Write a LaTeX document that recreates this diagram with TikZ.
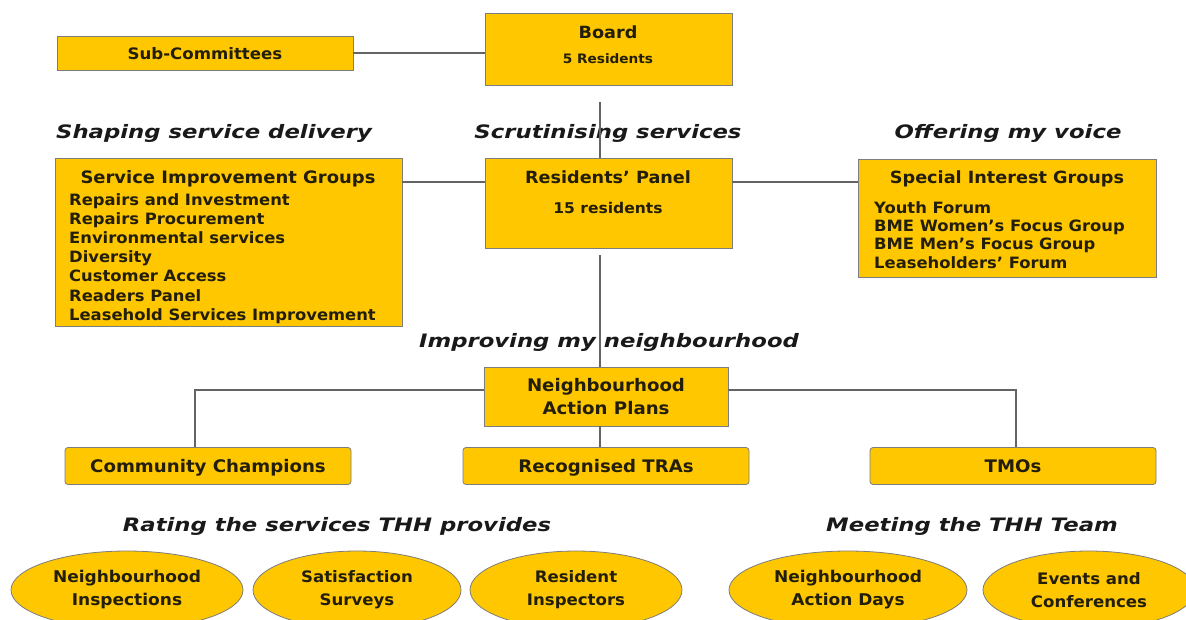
\documentclass[tikz,border=0pt]{standalone}
\usepackage{fontspec}
\setmainfont{DejaVu Sans}[FakeStretch=1.05]
\newfontfamily\headfont{DejaVu Sans}[FakeStretch=1.23]
\usetikzlibrary{shapes.geometric}

\definecolor{thhgold}{RGB}{255,199,0}
\definecolor{boxedge}{RGB}{125,125,125}
\definecolor{linkgrey}{RGB}{100,100,100}
\definecolor{inkdark}{RGB}{35,30,10}

\tikzset{
    panel/.style={draw=boxedge, fill=thhgold, line width=0.8pt, inner sep=0pt},
    tab/.style={panel, rounded corners=3pt, minimum width=286pt, minimum height=37pt,
        text height=12.6pt, text depth=0pt,
        text=inkdark, font=\bfseries\fontsize{17.3}{20}\selectfont},
    oval/.style={ellipse, draw=boxedge, fill=thhgold, line width=0.8pt, inner sep=0pt,
        minimum height=78pt, text=inkdark, align=center,
        font=\bfseries\fontsize{15.8}{23}\selectfont},
    caption/.style={anchor=base, text=black!90, font=\headfont\bfseries\itshape\fontsize{18.5}{22}\selectfont},
    title/.style={anchor=base, text=inkdark, font=\bfseries\fontsize{16.8}{20}\selectfont},
    listitem/.style={anchor=base west, inner sep=0pt, text=inkdark, font=\bfseries\fontsize{15.6}{19}\selectfont},
    link/.style={draw=linkgrey, line width=1.4pt},
}

\begin{document}
\begin{tikzpicture}[x=1pt, y=-1pt]
    \clip (0,0) rectangle (1186,619);

    \coordinate (boardfoot) at (600,102);
    \coordinate (panelfoot) at (600,255);
    \coordinate (row)       at (0,182);

    \node[panel, minimum width=296pt, minimum height=34pt] (subc) at (205,53) {};
    \node[title, font=\bfseries\fontsize{15.8}{20}\selectfont] (subcname) at (205,59) {Sub-Committees};

    \node[panel, minimum width=247pt, minimum height=72pt] (board) at (608.5,49) {};
    \node[title] (boardname) at (608,38) {Board};
    \node[title, font=\bfseries\fontsize{13}{16}\selectfont] (boardsize) at (608,63) {5 Residents};

    \node[caption] (shaping)   at (214,138)  {Shaping service delivery};
    \node[caption] (scrutiny)  at (608,138)  {Scrutinising services};
    \node[caption] (voice)     at (1008,138) {Offering my voice};

    \node[panel, minimum width=247pt, minimum height=90pt] (panel) at (608.5,203) {};
    \node[title] (panelname) at (608,183) {Residents’ Panel};
    \node[title, font=\bfseries\fontsize{14.8}{18}\selectfont] (panelsize) at (608,213) {15 residents};

    \node[panel, minimum width=347pt, minimum height=168pt] (sig) at (228.5,242) {};
    \node[title, font=\bfseries\fontsize{17.1}{20}\selectfont] (signame) at (228,183) {Service Improvement Groups};
    \foreach \item [count=\i] in {Repairs and Investment, Repairs Procurement,
        Environmental services, Diversity, Customer Access, Readers Panel,
        Leasehold Services Improvement}
        \node[listitem] (sigitem\i) at (69,{205+19.2*(\i-1)}) {\item};

    \node[panel, minimum width=298pt, minimum height=118pt] (special) at (1007,218) {};
    \node[title] (specialname) at (1007,183) {Special Interest Groups};
    \foreach \item [count=\i] in {Youth Forum, BME Women’s Focus Group,
        BME Men’s Focus Group, Leaseholders’ Forum}
        \node[listitem] (specialitem\i) at (874,{213+18.4*(\i-1)}) {\item};

    \node[caption] (improving) at (609,347) {Improving my neighbourhood};

    \node[panel, minimum width=244pt, minimum height=59pt, align=center, text=inkdark,
        font=\bfseries\fontsize{17.3}{23}\selectfont] (nap) at (606,396.5) {Neighbourhood\\Action Plans};

    \node[tab] (cc)  at (208,466)  {Community Champions};
    \node[tab] (tra) at (606,466)  {Recognised TRAs};
    \node[tab] (tmo) at (1013,466) {TMOs};

    \node[caption] (rating)  at (337,531) {Rating the services THH provides};
    \node[caption] (meeting) at (972,531) {Meeting the THH Team};

    \node[oval, minimum width=232pt, font=\bfseries\fontsize{16.2}{23}\selectfont] (inspect) at (127,590)  {Neighbourhood\\Inspections};
    \node[oval, minimum width=208pt] (survey)  at (357,590)  {Satisfaction\\Surveys};
    \node[oval, minimum width=212pt] (resins)  at (576,590)  {Resident\\Inspectors};
    \node[oval, minimum width=238pt, font=\bfseries\fontsize{16.2}{23}\selectfont] (days)    at (848,590)  {Neighbourhood\\Action Days};
    \node[oval, minimum width=212pt] (events)  at (1089,590) {Events and\\Conferences};

    \draw[link] (subc.east) -- (subc.east -| board.west);
    \draw[link] (boardfoot) -- (boardfoot |- panel.north);
    \draw[link] (row -| sig.east) -- (row -| panel.west);
    \draw[link] (row -| panel.east) -- (row -| special.west);
    \draw[link] (panelfoot) -- (panelfoot |- nap.north);
    \draw[link] ([yshift=6.5pt]nap.west) -| ([xshift=-13pt]cc.north);
    \draw[link] ([yshift=6.5pt]nap.east) -| ([xshift=3pt]tmo.north);
    \draw[link] (panelfoot |- nap.south) -- (panelfoot |- tra.north);
\end{tikzpicture}
\end{document}
